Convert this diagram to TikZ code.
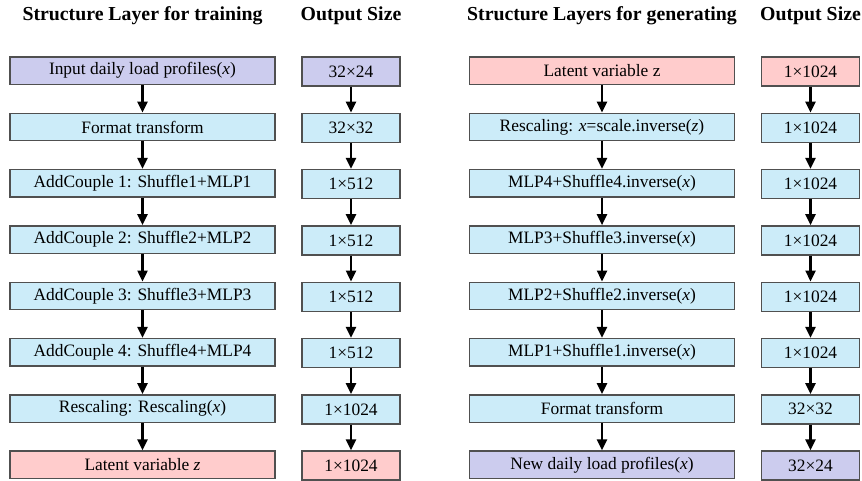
\documentclass[tikz,border=0pt]{standalone}
\usepackage{fontspec}
\setmainfont{Liberation Serif}
\usetikzlibrary{arrows.meta}
\definecolor{cpurple}{RGB}{204,204,238}
\definecolor{cblue}{RGB}{204,236,249}
\definecolor{cpink}{RGB}{255,204,204}
\definecolor{cborder}{RGB}{80,80,80}
\tikzset{
  box/.style={draw=cborder, line width=1.4pt, inner sep=0pt, align=center,
    font=\fontsize{17.4}{20}\selectfont},
  mainbox/.style={box, minimum width=265pt, minimum height=27.5pt},
  outbox/.style={box, minimum width=98pt, minimum height=29pt},
  head/.style={font=\fontsize{19.8}{22}\selectfont\bfseries, inner sep=0pt},
  flow/.style={line width=2.4pt, -{Triangle[width=10pt,length=11pt]}},
}
\newcommand{\vx}{\textit{x}}
\newcommand{\vz}{\textit{z}}
\begin{document}
\begin{tikzpicture}[x=1pt,y=-1pt]
\useasboundingbox (0,0) rectangle (862,481);
% headings
\node[head] (h1) at (142.5,16) {Structure Layer for training};
\node[head] (h2) at (351,16) {Output Size};
\node[head] (h3) at (602,16) {Structure Layers for generating};
\node[head] (h4) at (810.5,16) {Output Size};
% left main column
\node[mainbox, fill=cpurple] (L0) at (142.5,70.75) {Input daily load profiles(\vx)};
\node[mainbox, fill=cblue] (L1) at (142.5,127.05) {Format transform};
\node[mainbox, fill=cblue] (L2) at (142.5,183.35) {AddCouple 1: Shuffle1+MLP1};
\node[mainbox, fill=cblue] (L3) at (142.5,239.65) {AddCouple 2: Shuffle2+MLP2};
\node[mainbox, fill=cblue] (L4) at (142.5,295.95) {AddCouple 3: Shuffle3+MLP3};
\node[mainbox, fill=cblue] (L5) at (142.5,352.25) {AddCouple 4: Shuffle4+MLP4};
\node[mainbox, fill=cblue] (L6) at (142.5,408.55) {Rescaling: Rescaling(\vx)};
\node[mainbox, fill=cpink] (L7) at (142.5,464.85) {Latent variable \vz};
% left output column
\node[outbox, fill=cpurple] (LO0) at (351,71.5) {32×24};
\node[outbox, fill=cblue] (LO1) at (351,127.8) {32×32};
\node[outbox, fill=cblue] (LO2) at (351,184.1) {1×512};
\node[outbox, fill=cblue] (LO3) at (351,240.4) {1×512};
\node[outbox, fill=cblue] (LO4) at (351,296.7) {1×512};
\node[outbox, fill=cblue] (LO5) at (351,353.0) {1×512};
\node[outbox, fill=cblue] (LO6) at (351,409.3) {1×1024};
\node[outbox, fill=cpink] (LO7) at (351,465.6) {1×1024};
% right main column
\node[mainbox, fill=cpink] (R0) at (602,70.75) {Latent variable z};
\node[mainbox, fill=cblue] (R1) at (602,127.05) {Rescaling: \vx=scale.inverse(\vz)};
\node[mainbox, fill=cblue] (R2) at (602,183.35) {MLP4+Shuffle4.inverse(\vx)};
\node[mainbox, fill=cblue] (R3) at (602,239.65) {MLP3+Shuffle3.inverse(\vx)};
\node[mainbox, fill=cblue] (R4) at (602,295.95) {MLP2+Shuffle2.inverse(\vx)};
\node[mainbox, fill=cblue] (R5) at (602,352.25) {MLP1+Shuffle1.inverse(\vx)};
\node[mainbox, fill=cblue] (R6) at (602,408.55) {Format transform};
\node[mainbox, fill=cpurple] (R7) at (602,464.85) {New daily load profiles(\vx)};
% right output column
\node[outbox, fill=cpink] (RO0) at (810.5,71.5) {1×1024};
\node[outbox, fill=cblue] (RO1) at (810.5,127.8) {1×1024};
\node[outbox, fill=cblue] (RO2) at (810.5,184.1) {1×1024};
\node[outbox, fill=cblue] (RO3) at (810.5,240.4) {1×1024};
\node[outbox, fill=cblue] (RO4) at (810.5,296.7) {1×1024};
\node[outbox, fill=cblue] (RO5) at (810.5,353.0) {1×1024};
\node[outbox, fill=cblue] (RO6) at (810.5,409.3) {32×32};
\node[outbox, fill=cpurple] (RO7) at (810.5,465.6) {32×24};
% arrows
\foreach \i [evaluate=\i as \j using int(\i+1)] in {0,...,6} {
  \draw[flow] (L\i) -- (L\j);
  \draw[flow] (LO\i) -- (LO\j);
  \draw[flow] (R\i) -- (R\j);
  \draw[flow] (RO\i) -- (RO\j);
}
\end{tikzpicture}
\end{document}
